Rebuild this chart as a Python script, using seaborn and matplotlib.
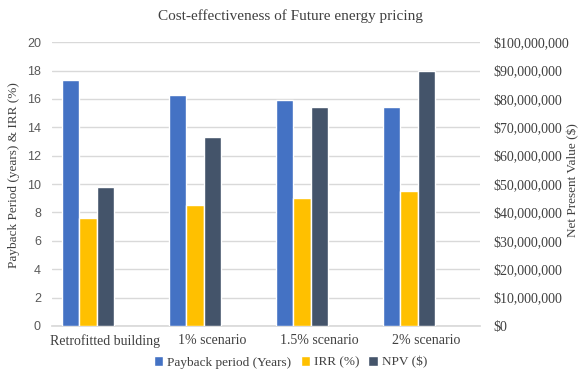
import matplotlib
matplotlib.use("Agg")
import matplotlib.pyplot as plt
import matplotlib.ticker as mticker
from matplotlib.patches import Patch
import seaborn as sns
import pandas as pd
import numpy as np

categories = ["Retrofitted building", "1% scenario", "1.5% scenario", "2% scenario"]
payback = [17.3, 16.3, 15.9, 15.45]
irr = [7.6, 8.5, 9.0, 9.5]
npv = [49_000_000, 66_700_000, 77_200_000, 89_800_000]
series = ["Payback period (Years)", "IRR (%)", "NPV ($)"]
colors = ["#4472C4", "#FFC000", "#44546A"]

sns.set_theme(style="white")
plt.rcParams["font.family"] = ["Liberation Serif", "DejaVu Serif"]

hue_order = series + ["_pad1", "_pad2"]
palette = dict(zip(hue_order, colors + ["#FFFFFF", "#FFFFFF"]))

left_df = pd.DataFrame({
    "cat": categories * 2,
    "series": [series[0]] * 4 + [series[1]] * 4,
    "val": payback + irr,
})
right_df = pd.DataFrame({"cat": categories, "series": [series[2]] * 4, "val": npv})

fig = plt.figure(figsize=(5.81, 3.76), dpi=100)
ax = fig.add_axes([0.0895, 0.133, 0.7365, 0.755])
ax2 = ax.twinx()

sns.barplot(data=left_df, x="cat", y="val", hue="series", hue_order=hue_order,
            order=categories, palette=palette, width=0.82, dodge=True, ax=ax,
            legend=False, saturation=1, errorbar=None, zorder=3)
sns.barplot(data=right_df, x="cat", y="val", hue="series", hue_order=hue_order,
            order=categories, palette=palette, width=0.82, dodge=True, ax=ax2,
            legend=False, saturation=1, errorbar=None, zorder=3)

ax.set_xlim(-0.5, 3.5)
ax.set_ylim(0, 20)
ax.set_yticks(range(0, 21, 2))
ax2.set_ylim(0, 100_000_000)
ax2.set_yticks(range(0, 100_000_001, 10_000_000))
ax2.yaxis.set_major_formatter(mticker.FuncFormatter(lambda v, p: f"${v:,.0f}"))

ax.grid(axis="y", color="#D9D9D9", linewidth=1, zorder=0)
ax.set_axisbelow(True)
for a in (ax, ax2):
    for s in a.spines.values():
        s.set_visible(False)
    a.tick_params(length=0)
ax.spines["bottom"].set_visible(True)
ax.spines["bottom"].set_color("#D9D9D9")

for lab in ax.get_yticklabels():
    lab.set_fontfamily(["Liberation Sans", "DejaVu Sans"])
    lab.set_fontsize(9)
    lab.set_color("#595959")
ax.tick_params(axis="y", pad=8)
ax.tick_params(axis="x", labelsize=10, pad=6)
ax2.tick_params(axis="y", labelsize=10, pad=10)
for lab in ax.get_xticklabels():
    lab.set_color("#404040")
for lab in ax2.get_yticklabels():
    lab.set_color("#404040")

ax.set_xlabel("")
ax.set_ylabel("Payback Period (years) & IRR (%)", fontsize=9.5, color="#404040")
ax.yaxis.set_label_coords(-0.075, 0.53)
ax2.set_ylabel("Net Present Value ($)", fontsize=9.5, color="#404040")
ax2.yaxis.set_label_coords(1.204, 0.515)
fig.suptitle("Cost-effectiveness of Future energy pricing", x=0.5, y=0.975,
             fontsize=11, color="#404040")

handles = [Patch(facecolor=c, label=s) for s, c in zip(series, colors)]
fig.legend(handles=handles, loc="lower center", bbox_to_anchor=(0.5, -0.012), ncol=3,
           frameon=False, fontsize=9.5, handlelength=0.7, handleheight=0.7,
           handletextpad=0.3, columnspacing=0.7, labelcolor="#404040")

fig.savefig("out.png", dpi=100)
